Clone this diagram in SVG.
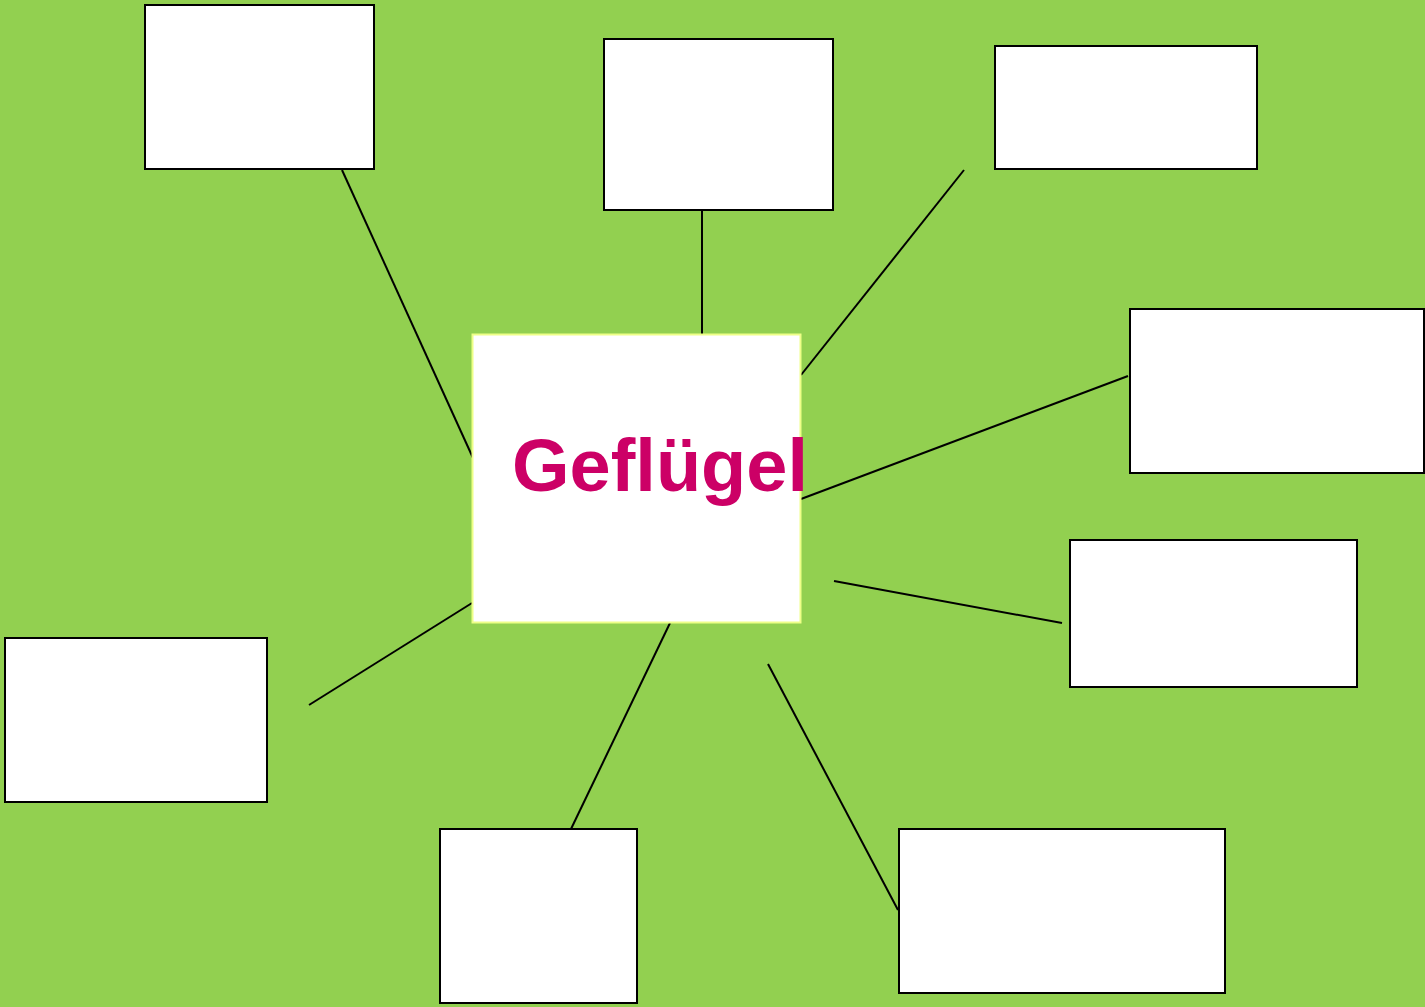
<svg xmlns="http://www.w3.org/2000/svg" width="1425" height="1007" viewBox="0 0 1425 1007">
<style>
.box{fill:#ffffff;stroke:#000000;stroke-width:2}
.conn line{stroke:#000000;stroke-width:2}
.center{fill:#ffffff;stroke:#eeff88;stroke-width:2}
.title{font-family:"Liberation Sans",Arial,sans-serif;font-weight:bold;font-size:74px;fill:#cc0066}
</style>
<rect x="0" y="0" width="1425" height="1007" fill="#92d050"/>
<g id="connectors" class="conn">
<line x1="342" y1="170" x2="473" y2="458"/>
<line x1="702" y1="211" x2="702" y2="334"/>
<line x1="964" y1="170" x2="801" y2="375"/>
<line x1="1128" y1="376" x2="801" y2="499"/>
<line x1="834" y1="581" x2="1062" y2="623"/>
<line x1="768" y1="664" x2="898" y2="910"/>
<line x1="670" y1="623" x2="571" y2="829"/>
<line x1="472" y1="603" x2="309" y2="705"/>
</g>
<g id="center"><rect class="center" x="472.5" y="334.5" width="328" height="288"/><text class="title" x="512" y="491">Geflügel</text></g>
<g id="boxA"><rect class="box" x="145" y="5" width="229" height="164"/></g>
<g id="boxB"><rect class="box" x="604" y="39" width="229" height="171"/></g>
<g id="boxC"><rect class="box" x="995" y="46" width="262" height="123"/></g>
<g id="boxD"><rect class="box" x="1130" y="309" width="294" height="164"/></g>
<g id="boxE"><rect class="box" x="1070" y="540" width="287" height="147"/></g>
<g id="boxF"><rect class="box" x="899" y="829" width="326" height="164"/></g>
<g id="boxG"><rect class="box" x="440" y="829" width="197" height="174"/></g>
<g id="boxH"><rect class="box" x="5" y="638" width="262" height="164"/></g>
</svg>
